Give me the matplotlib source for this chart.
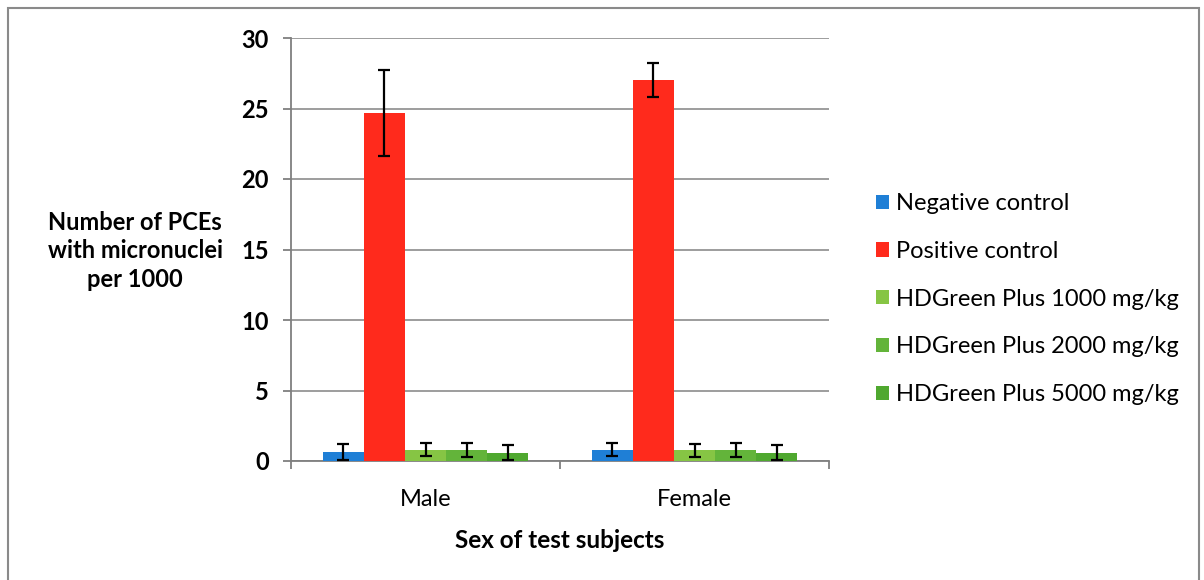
import numpy as np
import matplotlib
matplotlib.use("Agg")
import matplotlib.pyplot as plt
from matplotlib.patches import Rectangle

plt.rcParams["font.family"] = ["Lato", "DejaVu Sans"]

# data
categories = ["Male", "Female"]
series = [
    "Negative control",
    "Positive control",
    "HDGreen Plus 1000 mg/kg",
    "HDGreen Plus 2000 mg/kg",
    "HDGreen Plus 5000 mg/kg",
]
means = [
    [0.65, 0.8],
    [24.65, 27.0],
    [0.8, 0.75],
    [0.75, 0.75],
    [0.6, 0.6],
]
errors = [
    [0.55, 0.45],
    [3.05, 1.2],
    [0.45, 0.45],
    [0.5, 0.5],
    [0.55, 0.55],
]
colors = ["#1f7fd6", "#ff2a1c", "#86c544", "#63b43a", "#4fa82f"]
yticks = [0, 5, 10, 15, 20, 25, 30]

fig = plt.figure(figsize=(12.04, 5.8), dpi=100)
ax = fig.add_axes([291 / 1204, 1 - 461 / 580, (829 - 291) / 1204, (461 - 38) / 580])

# outer chart frame
fig.patches.append(Rectangle((8 / 1204, -0.1), (1199 - 8) / 1204, 1.1 - 8 / 580,
                             transform=fig.transFigure, fill=False,
                             edgecolor="#8a8a8a", linewidth=1.5))

x = np.arange(len(categories))
bw = 0.153
n = len(series)
for j, name in enumerate(series):
    pos = x + (j - (n - 1) / 2) * bw
    ax.bar(pos, means[j], width=bw, color=colors[j], label=name, zorder=3)
    ax.errorbar(pos, means[j], yerr=errors[j], fmt="none", ecolor="black",
                elinewidth=1.6, capsize=4.5, capthick=1.6, zorder=4)

ax.set_xlim(-0.5, 1.5)
ax.set_ylim(0, 30)
ax.set_yticks(yticks)
ax.grid(axis="y", color="#8c8c8c", linewidth=1.2, zorder=0)
ax.set_axisbelow(True)
for s in ["top", "right"]:
    ax.spines[s].set_visible(False)
for s in ["left", "bottom"]:
    ax.spines[s].set_color("#7f7f7f")
    ax.spines[s].set_linewidth(1.3)

ax.set_xticks(x)
ax.set_xticklabels(categories, fontsize=17)
ax.tick_params(axis="x", length=0, pad=20)
ax.set_xticks([-0.5, 0.5, 1.5], minor=True)
ax.tick_params(axis="x", which="minor", length=6, color="#7f7f7f", width=1.3)
ax.tick_params(axis="y", labelsize=17, length=6, color="#7f7f7f", width=1.3, pad=10)
for t in ax.get_yticklabels():
    t.set_fontweight("bold")

ax.set_xlabel("Sex of test subjects", fontsize=17.5, fontweight="bold", labelpad=14)
fig.text(135 / 1204, 1 - 251 / 580, "Number of PCEs\nwith micronuclei\nper 1000",
         ha="center", va="center", fontsize=17, fontweight="bold", linespacing=1.3)

leg = fig.legend(loc="upper left", bbox_to_anchor=(855 / 1204, 1 - 172 / 580),
                 frameon=False, fontsize=17, handlelength=0.55, handleheight=0.55,
                 handletextpad=0.3, labelspacing=1.13)

fig.savefig("out.png", dpi=100)
